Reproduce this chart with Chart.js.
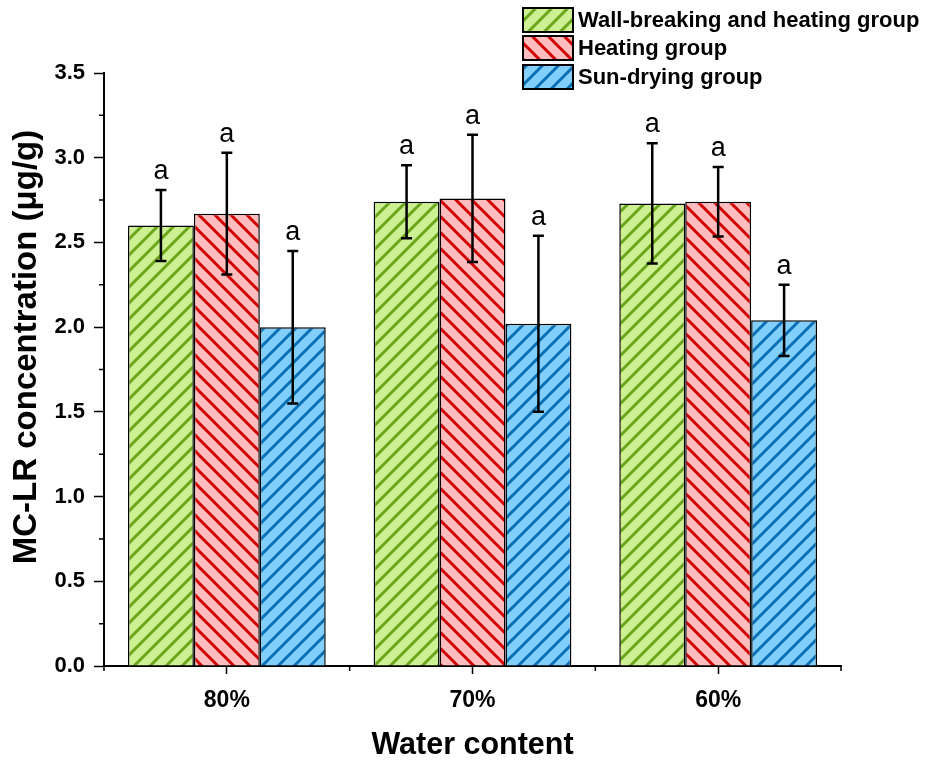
<!DOCTYPE html>
<html>
<head>
<meta charset="utf-8">
<script src="https://cdn.jsdelivr.net/npm/chart.js@4.4.0/dist/chart.umd.min.js"></script>
<style>
  html, body { margin: 0; padding: 0; background: #fff; }
  #wrap { width: 930px; height: 764px; }
</style>
</head>
<body>
<div id="wrap"><canvas id="chartMC"></canvas></div>
<script>
// datos
const categorias = ['80%', '70%', '60%'];
const grupos = ['Wall-breaking and heating group', 'Heating group', 'Sun-drying group'];
const pared_calor = [2.60, 2.74, 2.73];
const pared_calor_err = [0.21, 0.215, 0.355];
const calor = [2.67, 2.76, 2.74];
const calor_err = [0.36, 0.375, 0.205];
const sol = [2.00, 2.02, 2.04];
const sol_err = [0.45, 0.52, 0.21];
const letras = [['a', 'a', 'a'], ['a', 'a', 'a'], ['a', 'a', 'a']];
const y_ticks = [0, 0.5, 1.0, 1.5, 2.0, 2.5, 3.0, 3.5];
const titulo_y = 'MC-LR concentration (μg/g)';

const fuente = "'Liberation Sans', Arial, sans-serif";
Chart.defaults.font.family = fuente;
Chart.defaults.color = '#000';

function hacerPatron(fondo, raya, dir) {
    const c = document.createElement('canvas');
    const t = 16;
    c.width = t; c.height = t;
    const ctx = c.getContext('2d');
    ctx.fillStyle = fondo;
    ctx.fillRect(0, 0, t, t);
    ctx.strokeStyle = raya;
    ctx.lineWidth = 3;
    ctx.beginPath();
    if (dir === '/') {
        ctx.moveTo(-4, t + 4); ctx.lineTo(t + 4, -4);
        ctx.moveTo(-4, 4); ctx.lineTo(4, -4);
        ctx.moveTo(t - 4, t + 4); ctx.lineTo(t + 4, t - 4);
    } else {
        ctx.moveTo(-4, -4); ctx.lineTo(t + 4, t + 4);
        ctx.moveTo(-4, t - 4); ctx.lineTo(4, t + 4);
        ctx.moveTo(t - 4, -4); ctx.lineTo(t + 4, 4);
    }
    ctx.stroke();
    return c.getContext('2d').createPattern(c, 'repeat');
}

const patVerde = hacerPatron('#ccf092', '#6aa51b', '/');
const patRojo = hacerPatron('#ffbdbd', '#d20000', '\\');
const patAzul = hacerPatron('#82cffc', '#0b6fb3', '/');

const errores = [pared_calor_err, calor_err, sol_err];

const pluginExtras = {
    id: 'extras',
    afterDatasetsDraw(chart) {
        const ctx = chart.ctx;
        const y = chart.scales.y;
        ctx.save();
        chart.data.datasets.forEach(function (ds, i) {
            const meta = chart.getDatasetMeta(i);
            meta.data.forEach(function (bar, j) {
                const v = ds.data[j];
                const e = errores[i][j];
                const yt = y.getPixelForValue(v + e);
                const yb = y.getPixelForValue(v - e);
                ctx.strokeStyle = '#000';
                ctx.lineWidth = 2.5;
                ctx.beginPath();
                ctx.moveTo(bar.x, yt); ctx.lineTo(bar.x, yb);
                ctx.moveTo(bar.x - 5.5, yt); ctx.lineTo(bar.x + 5.5, yt);
                ctx.moveTo(bar.x - 5.5, yb); ctx.lineTo(bar.x + 5.5, yb);
                ctx.stroke();
                ctx.fillStyle = '#000';
                ctx.font = '27px ' + fuente;
                ctx.textAlign = 'center';
                ctx.textBaseline = 'alphabetic';
                ctx.fillText(letras[i][j], bar.x, yt - 11);
            });
        });
        ctx.restore();
    },
    afterDraw(chart) {
        const ctx = chart.ctx;
        const y = chart.scales.y;
        const area = chart.chartArea;
        ctx.save();
        ctx.strokeStyle = '#000';
        ctx.lineWidth = 1.5;
        ctx.beginPath();
        // minor ticks y
        for (let k = 0; k < y_ticks.length - 1; k++) {
            const py = y.getPixelForValue((y_ticks[k] + y_ticks[k + 1]) / 2);
            ctx.moveTo(area.left - 5, py); ctx.lineTo(area.left, py);
        }
        // minor ticks x (limites de categoria)
        for (let k = 0; k <= categorias.length; k++) {
            const px = area.left + k * (area.right - area.left) / categorias.length;
            ctx.moveTo(px, area.bottom); ctx.lineTo(px, area.bottom + 5);
        }
        ctx.stroke();
        // titulo eje y
        ctx.save();
        ctx.translate(27, 347);
        ctx.rotate(-Math.PI / 2);
        ctx.font = 'bold 33px ' + fuente;
        ctx.textAlign = 'center';
        ctx.textBaseline = 'middle';
        ctx.fillStyle = '#000';
        ctx.fillText(titulo_y, 0, 0);
        ctx.restore();
        // leyenda
        const pats = [patVerde, patRojo, patAzul];
        const filas = [8, 36, 65];
        ctx.font = 'bold 22px ' + fuente;
        ctx.textAlign = 'left';
        ctx.textBaseline = 'middle';
        for (let k = 0; k < grupos.length; k++) {
            ctx.fillStyle = pats[k];
            ctx.fillRect(523, filas[k], 50, 24);
            ctx.lineWidth = 2;
            ctx.strokeStyle = '#000';
            ctx.strokeRect(523, filas[k], 50, 24);
            ctx.fillStyle = '#000';
            ctx.fillText(grupos[k], 578, filas[k] + 13);
        }
        ctx.restore();
    }
};

const datosGrafica = {
    labels: categorias,
    datasets: [
        { label: grupos[0], data: pared_calor, backgroundColor: patVerde, borderColor: '#000', borderWidth: 1.5 },
        { label: grupos[1], data: calor, backgroundColor: patRojo, borderColor: '#000', borderWidth: 1.5 },
        { label: grupos[2], data: sol, backgroundColor: patAzul, borderColor: '#000', borderWidth: 1.5 }
    ]
};

const config = {
    type: 'bar',
    data: datosGrafica,
    options: {
        responsive: true,
        maintainAspectRatio: false,
        animation: false,
        layout: { padding: { top: 73, right: 89, left: 0, bottom: 0 } },
        datasets: { bar: { categoryPercentage: 0.805, barPercentage: 1 } },
        plugins: {
            legend: { display: false },
            tooltip: { enabled: false }
        },
        scales: {
            x: {
                grid: { offset: false, drawOnChartArea: false, tickLength: 8, tickWidth: 1.5, tickColor: '#000' },
                border: { color: '#000', width: 2 },
                ticks: { font: { size: 23, weight: 'bold' }, padding: 13 },
                title: { display: true, text: 'Water content', font: { size: 30.5, weight: 'bold' }, padding: { top: 13, bottom: 0 } },
                afterFit(scale) { scale.height = 98; }
            },
            y: {
                min: 0,
                max: 3.5,
                afterBuildTicks(scale) { scale.ticks = y_ticks.map(function (v) { return { value: v }; }); },
                grid: { drawOnChartArea: false, tickLength: 10, tickWidth: 1.5, tickColor: '#000' },
                border: { color: '#000', width: 2 },
                ticks: {
                    font: { size: 22, weight: 'bold' },
                    padding: 9,
                    callback: function (v) { return v.toFixed(1); }
                },
                afterFit(scale) { scale.width = 104; }
            }
        }
    },
    plugins: [pluginExtras]
};

const miGrafica = new Chart(document.getElementById('chartMC'), config);
</script>
</body>
</html>
